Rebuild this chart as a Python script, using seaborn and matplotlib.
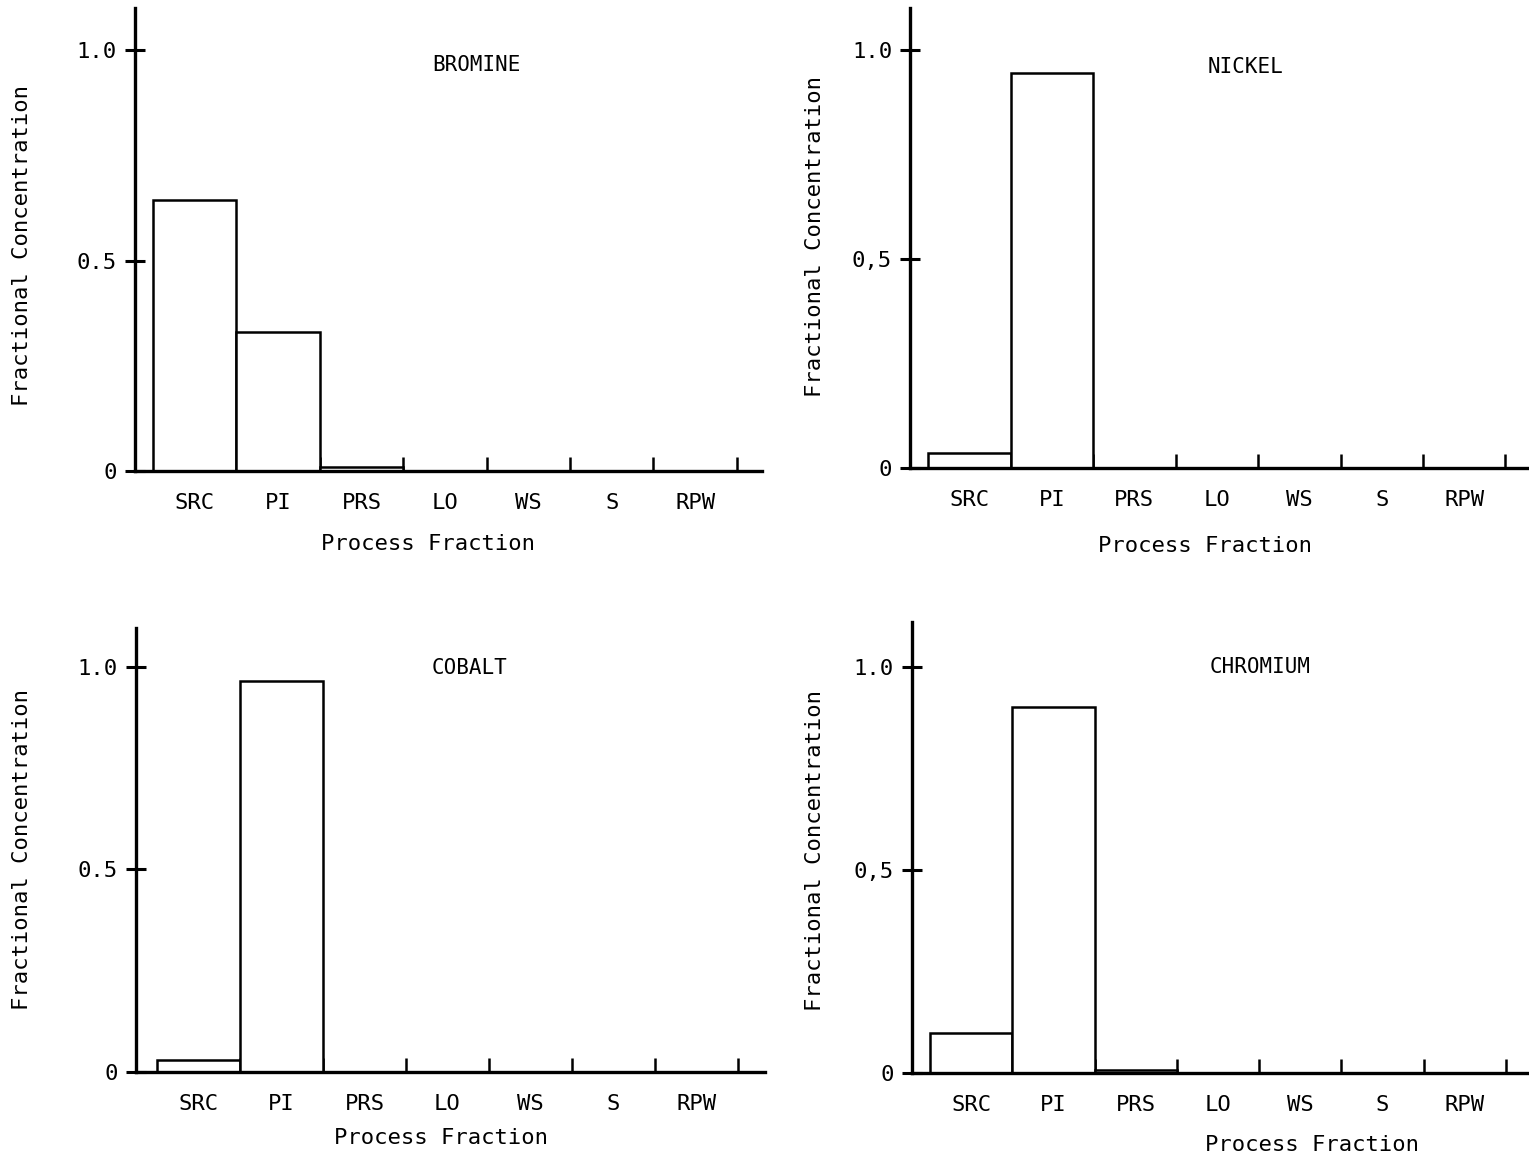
import numpy as np
import pandas as pd
import matplotlib
matplotlib.use("Agg")
import matplotlib.pyplot as plt
import seaborn as sns

categories = ["SRC", "PI", "PRS", "LO", "WS", "S", "RPW"]
bromine = [0.645, 0.330, 0.010, 0.0, 0.0, 0.0, 0.0]
nickel = [0.036, 0.945, 0.0, 0.0, 0.0, 0.0, 0.0]
cobalt = [0.030, 0.965, 0.0, 0.0, 0.0, 0.0, 0.0]
chromium = [0.098, 0.900, 0.008, 0.0, 0.0, 0.0, 0.0]
titles = ["BROMINE", "NICKEL", "COBALT", "CHROMIUM"]
yticks = [0, 0.5, 1.0]
ytick_labels = [["0", "0.5", "1.0"], ["0", "0,5", "1.0"], ["0", "0.5", "1.0"], ["0", "0,5", "1.0"]]

sns.set_style("ticks")
plt.rcParams["font.family"] = ["DejaVu Sans Mono", "DejaVu Sans"]
plt.rcParams["text.color"] = "black"
plt.rcParams["axes.labelcolor"] = "black"
plt.rcParams["xtick.color"] = "black"
plt.rcParams["ytick.color"] = "black"

fig = plt.figure(figsize=(15.29, 11.61), dpi=100)

# axes rectangles [left, bottom, width, height] in figure fractions
rects = [
    [0.0883, 0.5943, 0.4100, 0.3988],
    [0.5952, 0.5969, 0.4048, 0.3962],
    [0.0889, 0.0767, 0.4114, 0.3824],
    [0.5965, 0.0758, 0.4035, 0.3885],
]
xlims = [(-0.716, 6.80), (-0.72, 6.785), (-0.753, 6.825), (-0.72, 6.78)]
ylims = [(0, 1.10), (0, 1.10), (0, 1.096), (0, 1.11)]
title_pos = [(3.38, 0.964), (3.35, 0.96), (3.27, 0.998), (3.51, 1.0)]
xlabel_pos = [(0.467, -0.158), (0.477, -0.170), (0.485, -0.149), (0.648, -0.160)]
ylabel_pos = [(-0.180, 0.488), (-0.153, 0.504), (-0.181, 0.50), (-0.157, 0.494)]

series = [bromine, nickel, cobalt, chromium]

for i, vals in enumerate(series):
    ax = fig.add_axes(rects[i])
    df = pd.DataFrame({"Process Fraction": categories, "Fractional Concentration": vals})
    sns.barplot(data=df, x="Process Fraction", y="Fractional Concentration", ax=ax,
                color="white", saturation=1, edgecolor="black", linewidth=1.8,
                width=1.0, order=categories)
    ax.set_facecolor("white")
    sns.despine(ax=ax)
    for sp in ["left", "bottom"]:
        ax.spines[sp].set_linewidth(2.4)
        ax.spines[sp].set_color("black")
    ax.set_xlim(*xlims[i])
    ax.set_ylim(*ylims[i])
    ax.set_yticks(yticks)
    ax.set_yticklabels(ytick_labels[i])
    ax.tick_params(axis="y", direction="inout", length=14, width=2.2, pad=6,
                   labelsize=16, colors="black")
    ax.set_xticks(range(len(categories)))
    ax.set_xticklabels(categories)
    ax.tick_params(axis="x", which="major", length=0, pad=16, labelsize=16, colors="black")
    ax.set_xticks(np.arange(0.5, len(categories), 1.0), minor=True)
    ax.tick_params(axis="x", which="minor", direction="in", length=10, width=1.8, colors="black")
    ax.set_xlabel("Process Fraction", fontsize=16, va="center", color="black")
    ax.xaxis.set_label_coords(*xlabel_pos[i])
    ax.set_ylabel("Fractional Concentration", fontsize=16, va="center", color="black")
    ax.yaxis.set_label_coords(*ylabel_pos[i])
    ax.text(title_pos[i][0], title_pos[i][1], titles[i], ha="center", va="center",
            fontsize=15, color="black")

fig.savefig("out.png", dpi=100, facecolor="white")
